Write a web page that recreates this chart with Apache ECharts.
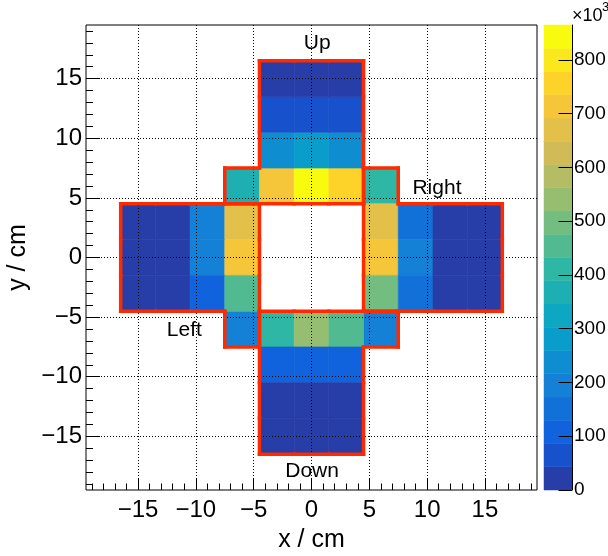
<!DOCTYPE html>
<html>
<head>
<meta charset="utf-8">
<script src="https://cdn.jsdelivr.net/npm/echarts@6/dist/echarts.min.js"></script>
<style>
  html, body { margin: 0; padding: 0; background: #fff; }
  #chart { width: 608px; height: 556px; }
</style>
</head>
<body>
<div id="chart"></div>
<script>
// Detector hit map: 3 cm x 3 cm bins, four arms around the beam hole.
const binWidth = 3;
const axisMin = -19.5;
const axisMax = 19.5;

// [x bin centre (cm), y bin centre (cm), counts]
const upCells = [
  [-6, 6, 372000],
  [-3, 6, 715000], [0, 6, 865000], [3, 6, 758000],
  [-3, 9, 238000], [0, 9, 282000], [3, 9, 236000],
  [-3, 12, 66000], [0, 12, 64000], [3, 12, 67000],
  [-3, 15, 22000], [0, 15, 20000], [3, 15, 23000]
];
const rightCells = [
  [6, 6, 412000],
  [6, 3, 670000], [9, 3, 152000], [12, 3, 20000], [15, 3, 18000],
  [6, 0, 716000], [9, 0, 196000], [12, 0, 22000], [15, 0, 19000],
  [6, -3, 498000], [9, -3, 150000], [12, -3, 20000], [15, -3, 18000]
];
const downCells = [
  [6, -6, 192000],
  [-3, -6, 412000], [0, -6, 542000], [3, -6, 455000],
  [-3, -9, 108000], [0, -9, 110000], [3, -9, 106000],
  [-3, -12, 21000], [0, -12, 22000], [3, -12, 20000],
  [-3, -15, 19000], [0, -15, 18000], [3, -15, 19000]
];
const leftCells = [
  [-6, -6, 194000],
  [-15, 3, 18000], [-12, 3, 20000], [-9, 3, 196000], [-6, 3, 672000],
  [-15, 0, 19000], [-12, 0, 22000], [-9, 0, 198000], [-6, 0, 718000],
  [-15, -3, 18000], [-12, -3, 20000], [-9, -3, 110000], [-6, -3, 456000]
];

// Arm names and where they are written (cm)
const regionNames = ['Up', 'Right', 'Down', 'Left'];
const regionLabelPos = [[0.5, 18.0], [10.85, 5.85], [0.05, -17.9], [-11.0, -6.1]];

const majorTicks = [-15, -10, -5, 0, 5, 10, 15];
const zTicks = [0, 100000, 200000, 300000, 400000, 500000, 600000, 700000, 800000];

// Minor ticks every 1 cm
const minorTicks = [];
for (let v = Math.ceil(axisMin); v <= Math.floor(axisMax); v++) minorTicks.push(v);

const allCells = [].concat(upCells, rightCells, downCells, leftCells);
const zMax = Math.max.apply(null, allCells.map(c => c[2]));

// ROOT "kBird" palette
const birdStops = [0.0, 0.125, 0.25, 0.375, 0.5, 0.625, 0.75, 0.875, 1.0];
const birdR = [0.2082, 0.0592, 0.0780, 0.0232, 0.1802, 0.5301, 0.8186, 0.9956, 0.9764];
const birdG = [0.1664, 0.3599, 0.5041, 0.6419, 0.7178, 0.7492, 0.7328, 0.7862, 0.9832];
const birdB = [0.5293, 0.8684, 0.8385, 0.7914, 0.6425, 0.4662, 0.3499, 0.1968, 0.0539];
function bird(f) {
  let k = 0;
  while (k < birdStops.length - 2 && f > birdStops[k + 1]) k++;
  const t = (f - birdStops[k]) / (birdStops[k + 1] - birdStops[k]);
  const mix = a => Math.round(255 * (a[k] + (a[k + 1] - a[k]) * t));
  return 'rgb(' + mix(birdR) + ',' + mix(birdG) + ',' + mix(birdB) + ')';
}
const nLevels = 20;
const levelStep = zMax / nLevels;
const levelColors = [];
for (let i = 0; i < nLevels; i++) {
  levelColors.push(bird(Math.min(1, Math.floor((i + 0.99) * 255 / nLevels) / 254)));
}
const pieces = levelColors.map((c, i) => i === nLevels - 1
  ? { gte: i * levelStep, lte: zMax, color: c }
  : { gte: i * levelStep, lt: (i + 1) * levelStep, color: c });
const levelBands = levelColors.map((c, i) => [i, i * levelStep, (i + 1) * levelStep]);

// Boundary edges of each arm: cell sides not shared with another cell of the same arm
function outlineSegments(cells) {
  const key = (x, y) => x + ',' + y;
  const members = new Set(cells.map(c => key(c[0], c[1])));
  const h = binWidth / 2;
  const segs = [];
  cells.forEach(c => {
    const x = c[0], y = c[1];
    if (!members.has(key(x, y + binWidth))) segs.push([x - h, y + h, x + h, y + h]);
    if (!members.has(key(x, y - binWidth))) segs.push([x - h, y - h, x + h, y - h]);
    if (!members.has(key(x - binWidth, y))) segs.push([x - h, y - h, x - h, y + h]);
    if (!members.has(key(x + binWidth, y))) segs.push([x + h, y - h, x + h, y + h]);
  });
  return segs;
}
const outlineData = [].concat(
  outlineSegments(upCells), outlineSegments(rightCells),
  outlineSegments(downCells), outlineSegments(leftCells));

const FONT = '"Liberation Sans", Arial, Helvetica, sans-serif';
const fmtTick = v => (v < 0 ? '\u2212' + Math.abs(v) : String(v));

const chart = echarts.init(document.getElementById('chart'), null, { renderer: 'canvas' });

const mainAxisCommon = {
  type: 'value', gridIndex: 0, min: axisMin, max: axisMax, z: 5
};
const hiddenLine = { show: false, onZero: false };

chart.setOption({
  animation: false,
  backgroundColor: '#fff',
  textStyle: { fontFamily: FONT, color: '#000' },
  grid: [
    { left: 86, top: 25, width: 451, height: 465, show: true, borderColor: '#000', borderWidth: 1,
      backgroundColor: 'transparent', outerBoundsMode: 'none', containLabel: false },
    { left: 544, top: 25, width: 28, height: 465, show: false, outerBoundsMode: 'none', containLabel: false }
  ],
  xAxis: [
    Object.assign({}, mainAxisCommon, {
      position: 'bottom',
      name: 'x / cm', nameLocation: 'middle', nameGap: 38,
      nameTextStyle: { fontSize: 25, fontFamily: FONT, color: '#000' },
      axisLine: hiddenLine,
      axisTick: { show: true, inside: true, length: 12, customValues: majorTicks, lineStyle: { color: '#000', width: 1 } },
      axisLabel: { show: true, customValues: majorTicks, formatter: fmtTick, margin: 8, fontSize: 24, fontFamily: FONT, color: '#000' },
      splitLine: { show: true, lineStyle: { color: '#000', width: 1, type: [1, 2] } }
    }),
    Object.assign({}, mainAxisCommon, {
      position: 'bottom',
      axisLine: hiddenLine,
      axisTick: { show: true, inside: true, length: 6.5, customValues: minorTicks, lineStyle: { color: '#000', width: 1 } },
      axisLabel: { show: false },
      splitLine: { show: false }
    }),
    { type: 'value', gridIndex: 1, min: 0, max: 1, show: false }
  ],
  yAxis: [
    Object.assign({}, mainAxisCommon, {
      position: 'left',
      name: 'y / cm', nameLocation: 'middle', nameGap: 55, nameRotate: 90,
      nameTextStyle: { fontSize: 25, fontFamily: FONT, color: '#000' },
      axisLine: hiddenLine,
      axisTick: { show: true, inside: true, length: 14, customValues: majorTicks, lineStyle: { color: '#000', width: 1 } },
      axisLabel: { show: true, customValues: majorTicks, formatter: fmtTick, margin: 4, fontSize: 24, fontFamily: FONT, color: '#000' },
      splitLine: { show: true, lineStyle: { color: '#000', width: 1, type: [1, 2] } }
    }),
    Object.assign({}, mainAxisCommon, {
      position: 'left',
      axisLine: hiddenLine,
      axisTick: { show: true, inside: true, length: 7, customValues: minorTicks, lineStyle: { color: '#000', width: 1 } },
      axisLabel: { show: false },
      splitLine: { show: false }
    }),
    {
      type: 'value', gridIndex: 1, min: 0, max: zMax, position: 'right', z: 5,
      axisLine: { show: true, onZero: false, lineStyle: { color: '#000', width: 1 } },
      axisTick: { show: true, inside: true, length: 13.5, customValues: zTicks, lineStyle: { color: '#000', width: 1 } },
      axisLabel: { show: true, customValues: zTicks, formatter: v => String(Math.round(v / 1000)), margin: 2, fontSize: 19, fontFamily: FONT, color: '#000' },
      splitLine: { show: false }
    }
  ],
  visualMap: {
    type: 'piecewise', show: false, dimension: 2, seriesIndex: 0, pieces: pieces
  },
  graphic: [
    { type: 'text', left: 572, top: 7, z: 10, style: { text: '\u00d710', font: '18px ' + FONT, fill: '#000' } },
    { type: 'text', left: 602, top: 1, z: 10, style: { text: '3', font: '13px ' + FONT, fill: '#000' } }
  ],
  series: [
    {
      name: 'hits', type: 'custom', xAxisIndex: 0, yAxisIndex: 0, z: 2, silent: true,
      data: allCells,
      dimensions: ['x', 'y', 'counts'],
      encode: { x: 0, y: 1 },
      renderItem: function (params, api) {
        const x = api.value(0), y = api.value(1), h = binWidth / 2;
        const p0 = api.coord([x - h, y + h]);
        const p1 = api.coord([x + h, y - h]);
        const c = api.visual('color');
        return {
          type: 'rect',
          shape: { x: p0[0], y: p0[1], width: p1[0] - p0[0], height: p1[1] - p0[1] },
          style: { fill: c, stroke: c, lineWidth: 0.6 }
        };
      }
    },
    {
      name: 'arms', type: 'custom', xAxisIndex: 0, yAxisIndex: 0, z: 10, silent: true,
      data: outlineData,
      encode: { x: [0, 2], y: [1, 3] },
      renderItem: function (params, api) {
        const a = api.coord([api.value(0), api.value(1)]);
        const b = api.coord([api.value(2), api.value(3)]);
        return {
          type: 'line',
          shape: { x1: a[0], y1: a[1], x2: b[0], y2: b[1] },
          style: { stroke: '#ff2a00', lineWidth: 3.5, lineCap: 'square' }
        };
      }
    },
    {
      name: 'armNames', type: 'custom', xAxisIndex: 0, yAxisIndex: 0, z: 11, silent: true,
      data: regionNames.map((n, i) => ({ name: n, value: regionLabelPos[i] })),
      encode: { x: 0, y: 1 },
      renderItem: function (params, api) {
        const p = api.coord([api.value(0), api.value(1)]);
        return {
          type: 'text',
          x: p[0], y: p[1],
          style: {
            text: regionNames[params.dataIndex], fill: '#000', font: '21px ' + FONT,
            align: 'center', verticalAlign: 'middle'
          }
        };
      }
    },
    {
      name: 'palette', type: 'custom', xAxisIndex: 2, yAxisIndex: 2, z: 2, silent: true,
      data: levelBands,
      encode: { y: [1, 2] },
      renderItem: function (params, api) {
        const i = api.value(0);
        const top = api.coord([0, api.value(2)]);
        const bot = api.coord([1, api.value(1)]);
        return {
          type: 'rect',
          shape: { x: top[0], y: top[1], width: bot[0] - top[0], height: bot[1] - top[1] },
          style: { fill: levelColors[i], stroke: levelColors[i], lineWidth: 0.5 }
        };
      }
    }
  ]
});
</script>
</body>
</html>
